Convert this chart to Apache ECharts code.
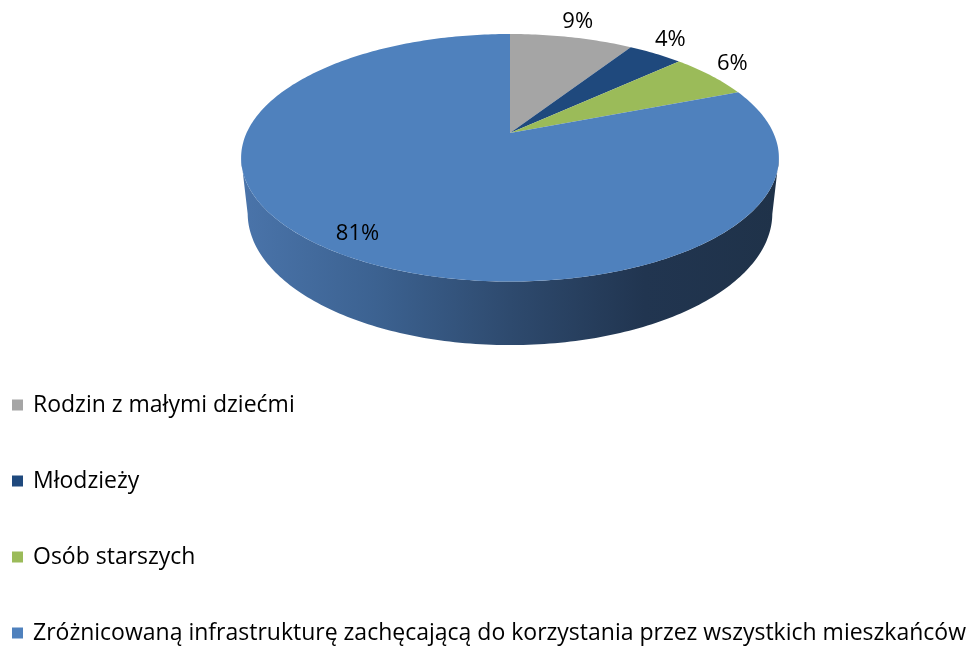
<!DOCTYPE html>
<html>
<head>
<meta charset="utf-8">
<script src="https://cdn.jsdelivr.net/npm/echarts@6/dist/echarts.min.js"></script>
<style>
  html, body { margin: 0; padding: 0; background: #fff; }
  #chart { width: 974px; height: 646px; }
</style>
</head>
<body>
<div id="chart"></div>
<script>
// dane
var categories = [
  "Rodzin z małymi dziećmi",
  "Młodzieży",
  "Osób starszych",
  "Zróżnicowaną infrastrukturę zachęcającą do korzystania przez wszystkich mieszkańców"
];
var values = [9, 4, 6, 81];
var colors = ["#a5a5a5", "#1f497d", "#9bbb59", "#4f81bd"];

(function() {
  var myChart = echarts.init(document.getElementById("chart"));

  // rzut perspektywiczny "3D" tarczy
  var CX = 510, CY = 133;
  var SIN_A = 0.451, COS_A = Math.sqrt(1 - SIN_A * SIN_A);
  var DIST = 4.46, FOC = 1175, DEPTH = 0.238;
  var SIL = Math.acos(-COS_A / DIST); // kat sylwetki bocznej

  function project(theta, r, h) {
    var X = r * Math.sin(theta);
    var Z = -r * Math.cos(theta);
    var u = h * COS_A - Z * SIN_A;
    var d = DIST - Z * COS_A - h * SIN_A;
    return [CX + FOC * X / d, CY - FOC * u / d];
  }

  var total = values.reduce(function(a, b) { return a + b; }, 0);

  function renderSlice(params, api) {
    var idx = params.seriesIndex;
    var start = 0;
    for (var j = 0; j < idx; j++) start += values[j];
    var v = api.value(0);
    var a0 = start / total * Math.PI * 2;
    var a1 = (start + v) / total * Math.PI * 2;
    var n = Math.max(4, Math.ceil((a1 - a0) * 60));
    var k;

    var children = [];

    // sciana boczna (tylko widoczna czesc z przodu)
    var s0 = Math.max(a0, SIL), s1 = Math.min(a1, Math.PI * 2 - SIL);
    if (s1 > s0) {
      var side = [];
      var m = Math.ceil((s1 - s0) * 60);
      for (k = 0; k <= m; k++) side.push(project(s0 + (s1 - s0) * k / m, 1, 0));
      for (k = m; k >= 0; k--) side.push(project(s0 + (s1 - s0) * k / m, 1, -DEPTH));
      children.push({
        type: "polygon",
        z2: 1,
        shape: { points: side },
        style: {
          fill: new echarts.graphic.LinearGradient(0, 0, 1, 0, [
            { offset: 0, color: "#4a74aa" },
            { offset: 0.25, color: "#3c6291" },
            { offset: 0.5, color: "#2e4a6e" },
            { offset: 0.75, color: "#213550" },
            { offset: 1, color: "#1f3249" }
          ])
        }
      });
    }

    // gorna powierzchnia
    var top = [project(0, 0, 0)];
    for (k = 0; k <= n; k++) top.push(project(a0 + (a1 - a0) * k / n, 1, 0));
    children.push({
      type: "polygon",
      z2: 2,
      shape: { points: top },
      style: { fill: colors[idx] }
    });

    // etykieta
    var mid = (a0 + a1) / 2;
    var inside = v / total > 0.5;
    var lp = inside ? project(mid, 0.88, 0) : project(mid, 1.12, 0);
    children.push({
      type: "text",
      z2: 3,
      x: lp[0],
      y: lp[1] - (inside ? 0 : 6),
      style: {
        text: Math.round(v / total * 100) + "%",
        fill: "#000",
        font: '22px "Open Sans"',
        align: "center",
        verticalAlign: "middle"
      }
    });

    return { type: "group", children: children };
  }

  var series = categories.map(function(name, i) {
    return {
      type: "custom",
      name: name,
      coordinateSystem: "none",
      renderItem: renderSlice,
      itemStyle: { color: colors[i] },
      data: [[values[i]]],
      silent: true
    };
  });

  var option = {
    animation: false,
    color: colors,
    legend: {
      orient: "vertical",
      left: 7,
      top: 388,
      bottom: 0,
      padding: [5, 0, 0, 5],
      icon: "rect",
      itemWidth: 11,
      itemHeight: 11,
      itemGap: 52,
      textStyle: {
        fontFamily: "Open Sans",
        fontSize: 23,
        color: "#000",
        lineHeight: 24,
        padding: [0, 0, 0, 5]
      },
      data: categories
    },
    series: series
  };

  myChart.setOption(option);
  window.addEventListener("resize", function() {
    myChart.resize();
  });
})();
</script>
</body>
</html>
